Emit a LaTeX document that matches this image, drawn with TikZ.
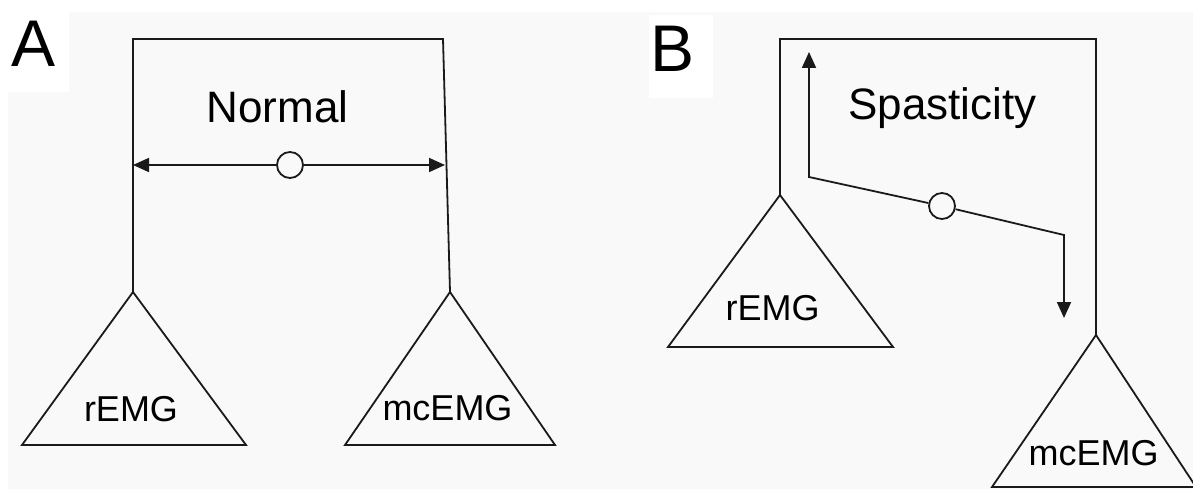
\documentclass[tikz,border=0pt]{standalone}
\usepackage{fontspec}
\setmainfont{Liberation Sans}
\usetikzlibrary{arrows.meta}
\definecolor{paper}{HTML}{F9F9F9}
\definecolor{ink}{HTML}{1A1A1A}
\tikzset{
  wire/.style={draw=ink, line width=1.8pt, line join=miter},
  feed/.style={wire, -{Triangle[length=16pt, width=14pt]}},
  junction/.style={circle, draw=ink, line width=1.8pt, fill=paper, minimum size=26pt, inner sep=0pt},
  emglabel/.style={anchor=base, inner sep=0pt, text=black, font=\fontsize{36}{40}\selectfont},
  titlelabel/.style={anchor=base, inner sep=0pt, text=black, font=\fontsize{44}{50}\selectfont},
  panellabel/.style={anchor=base, inner sep=0pt, text=black, font=\fontsize{66}{70}\selectfont},
}
\begin{document}
\begin{tikzpicture}[x=1pt, y=-1pt]
  % page and backdrop
  \fill[white] (0,0) rectangle (1193,489);
  \useasboundingbox (0,0) rectangle (1193,489);
  \fill[paper] (8,12) rectangle (1193,489);
  \fill[white] (8,12) rectangle (69,92);
  \fill[white] (649,15) rectangle (713,98);

  % ---------- panel A: normal ----------
  \node[panellabel] (labA) at (34,67) {A};
  \node[titlelabel] (titleA) at (277.5,123) {Normal};

  \coordinate (rA) at (133,292);
  \coordinate (mA) at (450,292);
  \coordinate (rAtop) at (133,39);
  \coordinate (mAtop) at (443,39);
  \draw[wire] (rA) -- (rAtop) -- (mAtop) -- (mA);

  % rEMG triangle
  \coordinate (rAbl) at (22,445);
  \coordinate (rAbr) at (246,445);
  \draw[wire] (rA) -- (rAbl) -- (rAbr) -- cycle;
  \node[emglabel] (rEMGa) at (131,421) {rEMG};

  % mcEMG triangle
  \coordinate (mAbl) at (345,445);
  \coordinate (mAbr) at (555,445);
  \draw[wire] (mA) -- (mAbl) -- (mAbr) -- cycle;
  \node[emglabel] (mcEMGa) at (447.5,420) {mcEMG};

  % balanced coupling
  \node[junction] (cA) at (290,165) {};
  \coordinate (cAleft) at (133,165);
  \coordinate (cAright) at (445,165);
  \draw[feed] (cA) -- (cAleft);
  \draw[feed] (cA) -- (cAright);

  % ---------- panel B: spasticity ----------
  \node[panellabel] (labB) at (673,72) {B};
  \node[titlelabel] (titleB) at (942.5,120) {Spasticity};

  \coordinate (rB) at (780,195);
  \coordinate (mB) at (1096,335);
  \coordinate (rBtop) at (780,39);
  \coordinate (mBtop) at (1096,39);
  \draw[wire] (rB) -- (rBtop) -- (mBtop) -- (mB);

  % rEMG triangle
  \coordinate (rBbl) at (668,347);
  \coordinate (rBbr) at (893,347);
  \draw[wire] (rB) -- (rBbl) -- (rBbr) -- cycle;
  \node[emglabel] (rEMGb) at (772.5,320) {rEMG};

  % mcEMG triangle
  \coordinate (mBbl) at (992,487);
  \coordinate (mBbr) at (1196,487);
  \draw[wire] (mB) -- (mBbl) -- (mBbr) -- cycle;
  \node[emglabel] (mcEMGb) at (1093.5,465) {mcEMG};

  % unbalanced coupling
  \node[junction] (cB) at (942,206) {};
  \coordinate (kUp) at (809,177);
  \coordinate (tipUp) at (809,52);
  \coordinate (kDown) at (1064,235);
  \coordinate (tipDown) at (1064,318);
  \draw[feed] (cB) -- (kUp) -- (tipUp);
  \draw[feed] (cB) -- (kDown) -- (tipDown);
\end{tikzpicture}
\end{document}
